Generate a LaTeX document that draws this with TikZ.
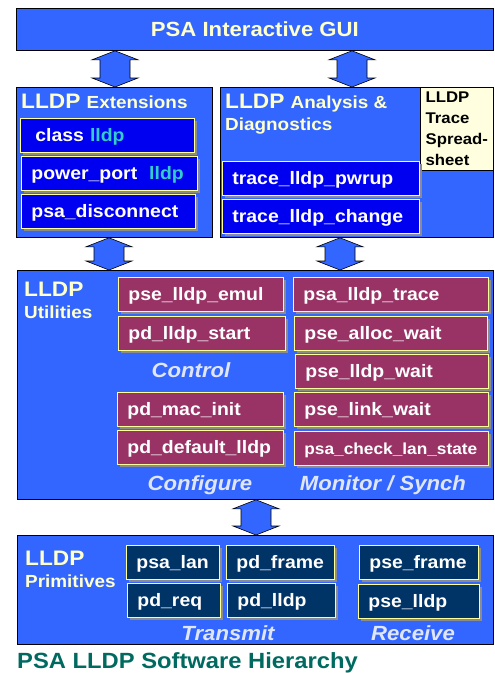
\documentclass[tikz,border=0pt]{standalone}
\usepackage{fontspec}
\setmainfont{Liberation Sans}[FakeStretch=1.08]
\usetikzlibrary{calc,shadows}

\definecolor{panelblue}{HTML}{3366FF}
\definecolor{fnblue}{HTML}{0000F0}
\definecolor{fnmaroon}{HTML}{993366}
\definecolor{fnnavy}{HTML}{003366}
\definecolor{headcream}{HTML}{FFFFCC}
\definecolor{sheetcream}{HTML}{FFFFE0}
\definecolor{fnborder}{HTML}{FFFF99}
\definecolor{lldpteal}{HTML}{33CCCC}
\definecolor{labelblue}{HTML}{E0E6FA}
\definecolor{capteal}{HTML}{006A60}
\definecolor{shadowgray}{HTML}{8C8C8C}

\tikzset{
  panel/.style={draw=black, line width=0.8pt, fill=panelblue, anchor=north west, inner sep=0pt},
  head/.style={anchor=base west, text=headcream, inner sep=0pt,
    font=\bfseries\fontsize{21}{24}\selectfont},
  subhead/.style={head, font=\bfseries\fontsize{17.5}{21}\selectfont},
  fn/.style={anchor=north west, draw=fnborder, line width=0.8pt, text=white,
    font=\bfseries\fontsize{18}{21}\selectfont, inner xsep=10pt, inner ysep=0pt,
    text height=15pt, text depth=2pt, minimum height=34pt, align=left, text width=#1,
    general shadow={fill=shadowgray, shadow xshift=3pt, shadow yshift=-3pt}},
  ext/.style={fn=#1, fill=fnblue},
  util/.style={fn=#1, fill=fnmaroon},
  prim/.style={fn=#1, fill=fnnavy},
  group/.style={anchor=base, text=labelblue, inner sep=0pt,
    font=\bfseries\itshape\fontsize{20.5}{24}\selectfont},
  link/.style={draw=black, line width=0.6pt, fill=panelblue}
}

% double headed block arrow from one panel down to the next
\newcommand{\updown}[3]{%
  \coordinate (ux) at (#1,0);
  \filldraw[link] (#2.south -| ux) -- ++(23,9) -- ++(-8,0)
    -- ($(#3.north -| ux)+(15,-9)$) -- ++(8,0) -- (#3.north -| ux)
    -- ++(-23,-9) -- ++(8,0) -- ($(#2.south -| ux)+(-15,9)$) -- ++(-8,0) -- cycle;
}

\begin{document}
\begin{tikzpicture}[x=1pt, y=-1pt]
  \useasboundingbox (0,0) rectangle (495,673);

  % --- GUI on top ---
  \node[panel, minimum width=477pt, minimum height=42pt, text=headcream,
        font=\bfseries\fontsize{20.5}{24}\selectfont] (gui) at (16,8) {PSA Interactive GUI};

  % --- Extensions ---
  \node[panel, minimum width=196pt, minimum height=150pt] (ext) at (16,87) {};
  \node[head] (exthead) at (21,108) {LLDP \fontsize{17.5}{21}\selectfont Extensions};
  \node[ext=154pt] (cls) at (20,118) {\hspace*{5pt}class \textcolor{lldpteal}{lldp}};
  \node[ext=156pt] (pwr) at (21,156) {power\_port~~\textcolor{lldpteal}{lldp}};
  \node[ext=154pt] (dis) at (21,194) {psa\_disconnect};

  % --- Analysis & Diagnostics ---
  \node[panel, minimum width=273pt, minimum height=150pt] (ana) at (220,87) {};
  \node[head] (anahead) at (225,108) {LLDP \fontsize{17.5}{21}\selectfont Analysis \&};
  \node[subhead] (anahead2) at (225,130) {Diagnostics};
  \node[anchor=north west, draw=black, line width=0.6pt, fill=sheetcream,
        minimum width=73pt, minimum height=83pt, inner xsep=5pt, align=left,
        font=\bfseries\fontsize{15.5}{21}\selectfont] (sheet) at (420,87)
        {LLDP\\Trace\\Spread-\\sheet};
  \node[ext=177pt] (pwrup) at (222,161) {trace\_lldp\_pwrup};
  \node[ext=177pt] (change) at (222,199) {trace\_lldp\_change};

  % --- Utilities ---
  \node[panel, minimum width=476pt, minimum height=229pt] (utl) at (17,270) {};
  \node[head] (utlhead) at (24,296) {LLDP};
  \node[subhead] (utlhead2) at (24,318) {Utilities};
  \node[util=145pt] (emul) at (118,277) {pse\_lldp\_emul};
  \node[util=147pt] (start) at (118,316) {pd\_lldp\_start};
  \node[util=146pt] (macinit) at (117,392) {pd\_mac\_init};
  \node[util=146pt] (dflt) at (117,430) {pd\_default\_lldp};
  \node[util=175pt] (trace) at (293,277) {psa\_lldp\_trace};
  \node[util=173pt] (alloc) at (294,316) {pse\_alloc\_wait};
  \node[util=173pt] (lwait) at (295,354) {pse\_lldp\_wait};
  \node[util=174pt] (link) at (294,392) {pse\_link\_wait};
  \node[util=174pt, font=\bfseries\fontsize{16}{19}\selectfont] (check) at (294,431) {psa\_check\_lan\_state};
  \node[group] (ctl) at (191,377) {Control};
  \node[group] (cfg) at (200,490) {Configure};
  \node[group] (mon) at (383,490) {Monitor / Synch};

  % --- Primitives ---
  \node[panel, minimum width=476pt, minimum height=109pt] (prm) at (17,535) {};
  \node[head] (prmhead) at (25,565) {LLDP};
  \node[subhead] (prmhead2) at (25,587) {Primitives};
  \node[prim=73pt] (lan) at (126,545) {psa\_lan};
  \node[prim=73pt] (req) at (127,583) {pd\_req};
  \node[prim=88pt] (pdframe) at (226,545) {pd\_frame};
  \node[prim=88pt] (pdlldp) at (227,583) {pd\_lldp};
  \node[prim=99pt] (pseframe) at (359,545) {pse\_frame};
  \node[prim=101pt] (pselldp) at (358,584) {pse\_lldp};
  \node[group] (tx) at (228,640) {Transmit};
  \node[group] (rx) at (413,640) {Receive};

  % --- arrows between layers ---
  \updown{115}{gui}{ext}
  \updown{352}{gui}{ana}
  \updown{109}{ext}{utl}
  \updown{340}{ana}{utl}
  \updown{256}{utl}{prm}

  % --- caption ---
  \node[anchor=base west, inner sep=0pt, text=capteal,
        font=\bfseries\fontsize{22}{25}\selectfont] (caption) at (17,668) {PSA LLDP Software Hierarchy};

\end{tikzpicture}
\end{document}
